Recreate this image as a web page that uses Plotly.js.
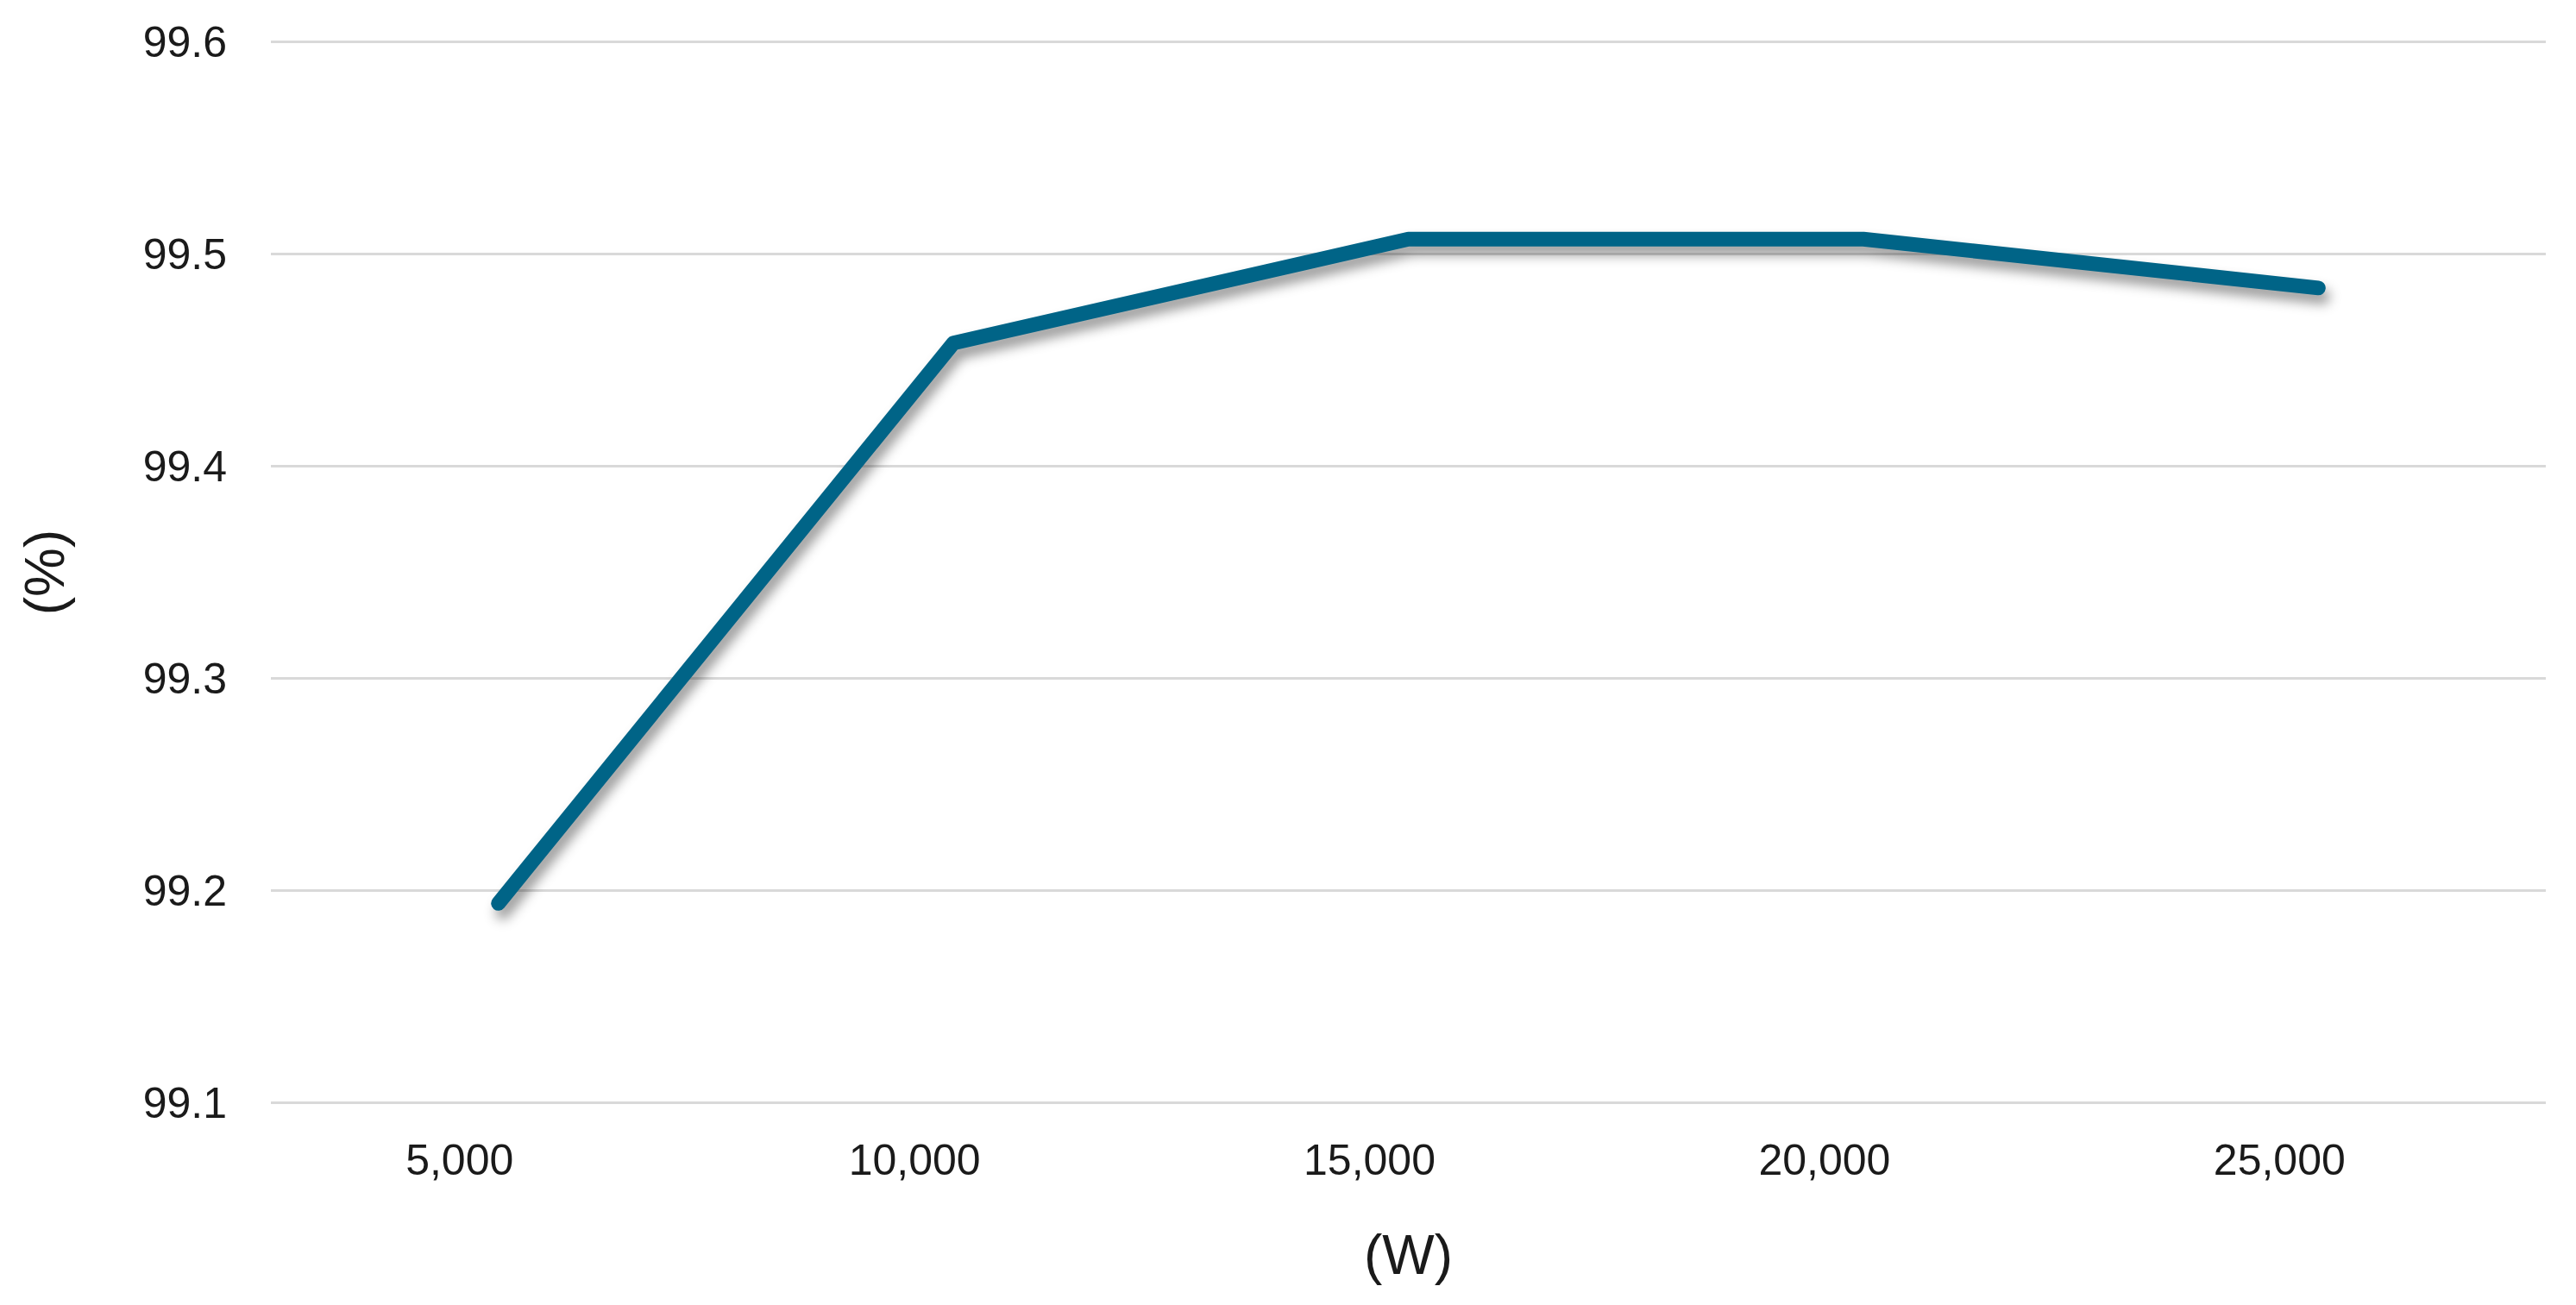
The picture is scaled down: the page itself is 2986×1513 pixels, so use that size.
<!DOCTYPE html>
<html>
<head>
<meta charset="utf-8">
<script src="https://cdn.plot.ly/plotly-3.0.1.min.js"></script>
<style>
  html, body { margin: 0; padding: 0; background: #fff; }
  /* soft drop shadow under the line, like the office chart */
  .scatterlayer .trace path.js-line {
    filter: drop-shadow(5px 10px 7px rgba(0,0,0,0.4));
    stroke-linecap: round;
    stroke-linejoin: round;
  }
</style>
</head>
<body>
<div id="plot1" style="width:2986px;height:1513px;"></div>
<script>
// power (W) on x, efficiency (%) on y
var power = ['5,000', '10,000', '15,000', '20,000', '25,000'];
var efficiency = [99.194, 99.458, 99.507, 99.507, 99.484];

var yTicks = [99.1, 99.2, 99.3, 99.4, 99.5, 99.6];

var trace1 = {
  x: power,
  y: efficiency,
  mode: 'lines',
  type: 'scatter',
  line: { color: '#006487', width: 17 },
  hoverinfo: 'x+y'
};

var layout = {
  width: 2986,
  height: 1513,
  // a hair of extra y range so the 99.1 / 99.6 gridlines get drawn
  margin: { l: 314, r: 35, t: 46, b: 232 },
  paper_bgcolor: '#fff',
  plot_bgcolor: '#fff',
  showlegend: false,
  font: { family: 'Liberation Sans, Arial, sans-serif', size: 50, color: '#1a1a1a' },
  xaxis: {
    type: 'category',
    range: [-0.5, 4.5],
    showgrid: false,
    zeroline: false,
    showline: false,
    ticks: '',
    ticklabelstandoff: 30,
    ticklabelshift: -45,
    title: { text: '(W)', font: { size: 64 }, standoff: 60 },
    automargin: false
  },
  yaxis: {
    range: [99.099, 99.601],
    tickvals: yTicks,
    ticktext: yTicks.map(function (v) { return v.toFixed(1); }),
    showgrid: true,
    gridcolor: '#d9d9d9',
    gridwidth: 3,
    zeroline: false,
    showline: false,
    ticks: '',
    ticklabelstandoff: 50,
    title: { text: '(%)', font: { size: 64 }, standoff: 70 },
    automargin: false
  }
};

Plotly.newPlot('plot1', [trace1], layout, { staticPlot: true });
</script>
</body>
</html>
